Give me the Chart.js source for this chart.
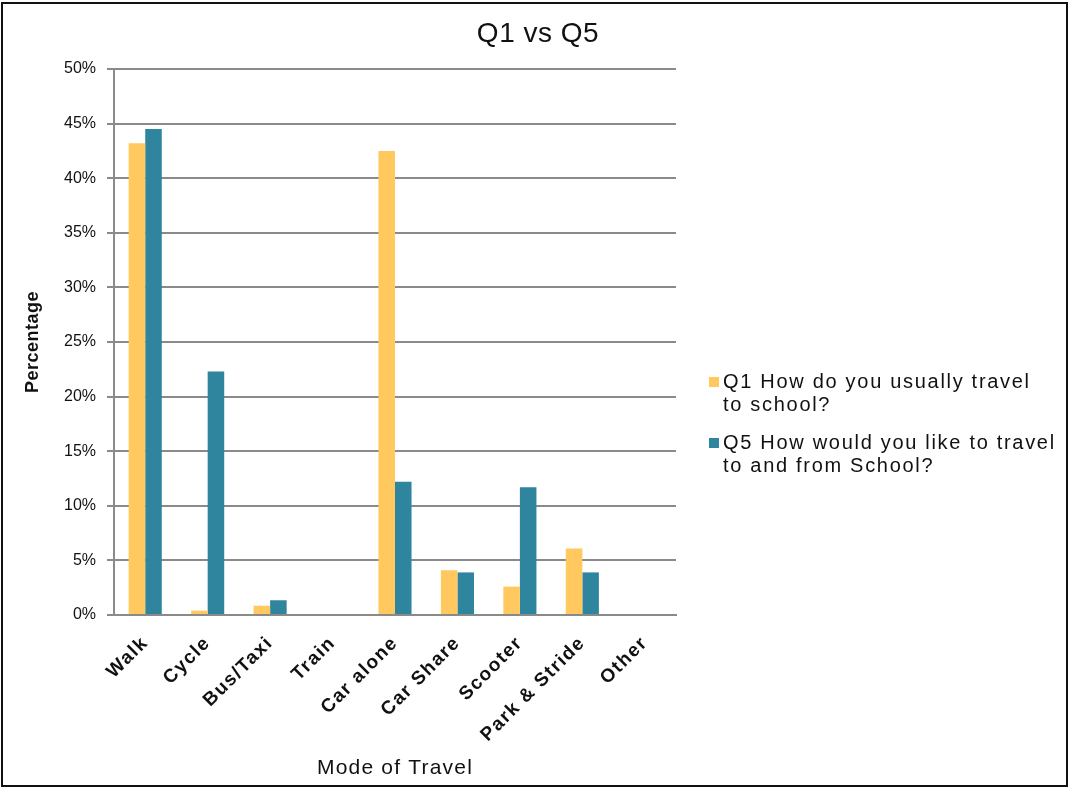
<!DOCTYPE html>
<html>
<head>
<meta charset="utf-8">
<script src="https://cdn.jsdelivr.net/npm/chart.js@4.4.1/dist/chart.umd.min.js"></script>
<style>
html,body{margin:0;padding:0;background:#fff;}
#wrap{position:relative;width:1070px;height:789px;overflow:hidden;background:#fff;}
#frame{position:absolute;left:1px;top:2px;width:1063px;height:781px;border:2px solid #111;pointer-events:none;}
#chart{position:absolute;left:0;top:0;}
#title{position:absolute;left:0;top:17px;width:1076px;text-align:center;font-family:"Liberation Sans",Arial,sans-serif;font-size:28px;line-height:32px;color:#111;letter-spacing:0.5px;}
#legend{position:absolute;left:709px;top:370px;font-family:"Liberation Sans",Arial,sans-serif;font-size:20px;letter-spacing:1.7px;color:#111;line-height:23px;}
.item{position:relative;padding-left:14px;margin-bottom:15px;white-space:nowrap;}
.sw{position:absolute;left:0;top:7px;width:10px;height:10px;}
</style>
</head>
<body>
<div id="wrap">
  <canvas id="chart" width="1070" height="789"></canvas>
  <div id="title"></div>
  <div id="legend"></div>
  <div id="frame"></div>
</div>
<script>
const categories = ['Walk', 'Cycle', 'Bus/Taxi', 'Train', 'Car alone', 'Car Share', 'Scooter', 'Park & Stride', 'Other'];
const q1Values = [43.2, 0.4, 0.85, 0, 42.5, 4.1, 2.6, 6.1, 0];
const q5Values = [44.5, 22.3, 1.35, 0, 12.2, 3.9, 11.7, 3.9, 0];
const q1LabelLines = ['Q1 How do you usually travel', 'to school?'];
const q5LabelLines = ['Q5 How would you like to travel', 'to and from School?'];
const yTickValues = [0, 5, 10, 15, 20, 25, 30, 35, 40, 45, 50];
const chartTitle = 'Q1 vs Q5';
const xTitle = 'Mode of Travel';
const yTitle = 'Percentage';

const q1Color = '#FFC960';
const q5Color = '#2F859E';
const gridColor = '#8a8a8a';
const FONT = '"Liberation Sans", Arial, sans-serif';

const series = [
  { lines: q1LabelLines, values: q1Values, color: q1Color },
  { lines: q5LabelLines, values: q5Values, color: q5Color }
];

document.getElementById('title').textContent = chartTitle;

// HTML legend
const legendEl = document.getElementById('legend');
series.forEach(s => {
  const item = document.createElement('div');
  item.className = 'item';
  const sw = document.createElement('span');
  sw.className = 'sw';
  sw.style.background = s.color;
  item.appendChild(sw);
  s.lines.forEach((ln, i) => {
    if (i > 0) item.appendChild(document.createElement('br'));
    item.appendChild(document.createTextNode(ln));
  });
  legendEl.appendChild(item);
});

// wrap a scale's text drawing with extra letter spacing
function spaced(scale, labelsSpacing, titleSpacing) {
  if (scale._spacedWrapped) return;
  scale._spacedWrapped = true;
  const origLabels = scale.drawLabels;
  const origTitle = scale.drawTitle;
  scale.drawLabels = function (area) {
    const ctx = this.ctx;
    ctx.save();
    ctx.letterSpacing = labelsSpacing;
    origLabels.call(this, area);
    ctx.restore();
  };
  scale.drawTitle = function () {
    const ctx = this.ctx;
    ctx.save();
    ctx.letterSpacing = titleSpacing;
    origTitle.call(this);
    ctx.restore();
  };
}

new Chart(document.getElementById('chart'), {
  type: 'bar',
  data: {
    labels: categories,
    datasets: series.map(s => ({
      label: s.lines.join(' '),
      data: s.values,
      backgroundColor: s.color,
      borderWidth: 0,
      categoryPercentage: 0.53,
      barPercentage: 1.0
    }))
  },
  options: {
    responsive: false,
    animation: false,
    devicePixelRatio: 1,
    layout: { padding: { left: 0, right: 394, top: 69, bottom: 0 } },
    plugins: {
      legend: { display: false },
      tooltip: { enabled: false },
      title: { display: false }
    },
    scales: {
      x: {
        grid: { display: false },
        border: { display: true, color: gridColor, width: 2 },
        ticks: {
          color: '#111',
          font: { family: FONT, size: 19, weight: 'bold' },
          maxRotation: 45,
          minRotation: 45,
          padding: 9,
          autoSkip: false
        },
        title: {
          display: true,
          text: xTitle,
          color: '#111',
          font: { family: FONT, size: 21, weight: 'normal' },
          padding: { top: 4, bottom: 8 }
        },
        afterFit: (scale) => { scale.height = 174; },
        afterUpdate: (scale) => spaced(scale, '1.5px', '1.2px')
      },
      y: {
        min: 0,
        max: 50,
        afterBuildTicks: (scale) => { scale.ticks = yTickValues.map(v => ({ value: v })); },
        grid: { color: gridColor, lineWidth: 2, tickLength: 7, tickColor: gridColor },
        border: { display: true, color: gridColor, width: 2 },
        ticks: {
          color: '#111',
          font: { family: FONT, size: 16 },
          padding: 11,
          callback: (v) => v + '%'
        },
        title: {
          display: true,
          text: yTitle,
          color: '#111',
          font: { family: FONT, size: 18, weight: 'bold' },
          padding: { top: 22, bottom: 0 }
        },
        afterFit: (scale) => { scale.width = 114; },
        afterUpdate: (scale) => spaced(scale, '0px', '0.5px')
      }
    }
  }
});
</script>
</body>
</html>
